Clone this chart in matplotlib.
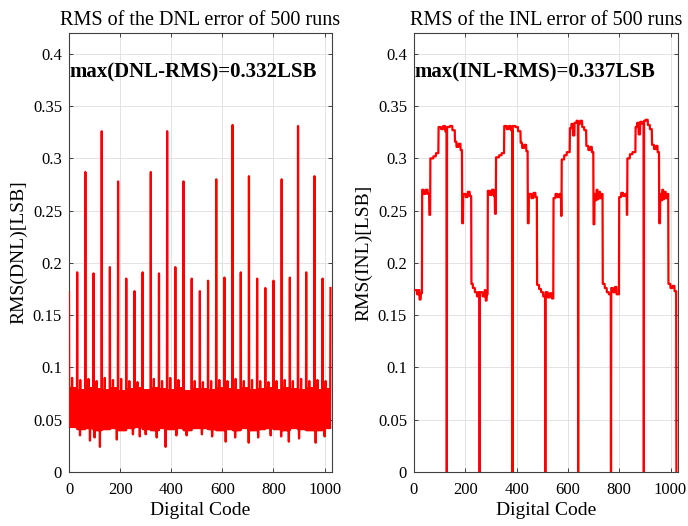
import numpy as np
import matplotlib
matplotlib.use("Agg")
import matplotlib.pyplot as plt

plt.rcParams["font.family"] = ["Liberation Serif", "DejaVu Serif"]

N_CODES = 1024

# ---- DNL: spikes every 32 codes (value read at each spike)
dnl_spike_codes = [0, 32, 64, 96, 128, 160, 192, 224, 256, 288, 320, 352, 384, 416,
                   448, 480, 512, 544, 576, 608, 640, 672, 704, 736, 768, 800, 832,
                   864, 896, 928, 960, 992, 1023]
dnl_spike_vals = [0.172, 0.191, 0.287, 0.190, 0.326, 0.196, 0.278, 0.185, 0.173,
                  0.191, 0.287, 0.190, 0.326, 0.196, 0.278, 0.185, 0.173, 0.183,
                  0.280, 0.186, 0.332, 0.191, 0.283, 0.185, 0.176, 0.183, 0.280,
                  0.186, 0.331, 0.191, 0.283, 0.185, 0.176]

# noise band of the DNL, top / bottom per 32-code block
dnl_band_hi = [0.080, 0.078, 0.080, 0.079, 0.078, 0.080, 0.077, 0.079,
               0.080, 0.078, 0.080, 0.079, 0.078, 0.080, 0.077, 0.079,
               0.079, 0.078, 0.080, 0.079, 0.078, 0.080, 0.078, 0.079,
               0.080, 0.078, 0.080, 0.079, 0.078, 0.080, 0.078, 0.079]
dnl_band_lo = [0.043, 0.041, 0.042, 0.040, 0.041, 0.042, 0.040, 0.042,
               0.043, 0.041, 0.040, 0.042, 0.041, 0.042, 0.040, 0.042,
               0.042, 0.041, 0.040, 0.041, 0.040, 0.042, 0.040, 0.041,
               0.042, 0.041, 0.040, 0.042, 0.041, 0.040, 0.040, 0.042]

# taller strokes right after each spike
dnl_bump_vals = [0.090, 0.088, 0.089, 0.087, 0.090, 0.088, 0.089, 0.087,
                 0.086, 0.088, 0.089, 0.087, 0.090, 0.088, 0.089, 0.087,
                 0.086, 0.087, 0.088, 0.087, 0.089, 0.087, 0.088, 0.087,
                 0.086, 0.087, 0.088, 0.087, 0.089, 0.087, 0.088, 0.087]

# deepest downward strokes
dnl_dip_codes = [43, 82, 100, 121, 160, 187, 250, 277, 300, 343, 378, 420, 460,
                 520, 560, 613, 650, 703, 740, 789, 830, 860, 900, 965, 1000]
dnl_dip_vals = [0.035, 0.030, 0.033, 0.024, 0.038, 0.031, 0.036, 0.034, 0.036,
                0.033, 0.024, 0.035, 0.035, 0.036, 0.034, 0.029, 0.033, 0.028,
                0.033, 0.035, 0.034, 0.029, 0.032, 0.028, 0.034]

# ---- INL: step levels (start code, level)
inl_starts = [0, 12, 18, 22, 27, 32, 38, 46, 54, 60, 64, 76, 86,
              96, 106, 114, 122, 129, 140, 150, 160, 166, 174, 182, 188,
              192, 202, 210, 218, 224, 230, 238, 246, 252,
              257, 268, 276, 280, 284, 288, 296, 304, 312, 316, 320, 332, 342,
              352, 362, 370, 378, 385, 396, 406, 416, 422, 430, 438, 444,
              448, 458, 466, 474, 480, 488, 496, 504,
              513, 522, 530, 538, 544, 552, 560, 568, 574, 576, 586, 596,
              608, 614, 620, 626, 634, 641, 648, 656, 664, 672, 680, 688, 694, 700,
              704, 708, 712, 716, 720, 726, 732, 736, 744, 752, 760,
              769, 776, 784, 790, 800, 808, 816, 824, 830, 832, 842, 852,
              864, 870, 876, 882, 890, 897, 904, 912, 920, 928, 936, 944, 950, 956,
              960, 964, 968, 972, 976, 982, 988, 992, 1000, 1008, 1016]
inl_levels = [0.174, 0.170, 0.174, 0.165, 0.171, 0.270, 0.266, 0.270, 0.266, 0.246,
              0.300, 0.302, 0.305,
              0.330, 0.328, 0.331, 0.326, 0.330, 0.331, 0.327, 0.316, 0.311, 0.314,
              0.308, 0.238,
              0.266, 0.263, 0.268, 0.264, 0.180, 0.176, 0.172, 0.168, 0.172,
              0.172, 0.168, 0.174, 0.164, 0.170, 0.269, 0.265, 0.270, 0.264, 0.247,
              0.301, 0.303, 0.305,
              0.331, 0.328, 0.331, 0.327, 0.331, 0.330, 0.326, 0.315, 0.310, 0.313,
              0.307, 0.238,
              0.266, 0.262, 0.267, 0.263, 0.179, 0.175, 0.172, 0.168,
              0.172, 0.167, 0.171, 0.166, 0.262, 0.266, 0.263, 0.266, 0.245,
              0.299, 0.303, 0.306,
              0.329, 0.333, 0.322, 0.334, 0.336, 0.333, 0.336, 0.330, 0.327,
              0.312, 0.308, 0.311, 0.306, 0.237,
              0.266, 0.260, 0.270, 0.261, 0.268, 0.262, 0.266, 0.180, 0.176, 0.172, 0.170,
              0.176, 0.172, 0.177, 0.170, 0.263, 0.267, 0.264, 0.266, 0.246,
              0.300, 0.304, 0.306,
              0.330, 0.334, 0.323, 0.335, 0.333, 0.336, 0.337, 0.332, 0.328,
              0.313, 0.309, 0.312, 0.306, 0.238,
              0.266, 0.260, 0.270, 0.261, 0.268, 0.262, 0.266, 0.180, 0.176, 0.178, 0.173]
inl_zero_codes = [128, 256, 384, 512, 640, 768, 896, 1023]

codes = np.arange(N_CODES)

# build DNL trace: band drawn as a zig-zag between its top and bottom
blk = codes // 32
dnl = np.where(codes % 2 == 0, np.take(dnl_band_hi, blk), np.take(dnl_band_lo, blk))
bump_codes = np.array(dnl_spike_codes[:-1]) + 12
dnl[bump_codes] = dnl_bump_vals
dnl[dnl_dip_codes] = dnl_dip_vals
dnl[dnl_spike_codes] = dnl_spike_vals

# build INL trace from the step levels
lengths = np.diff(inl_starts + [N_CODES])
inl = np.repeat(inl_levels, lengths)
inl[inl_zero_codes] = 0.0

fig = plt.figure(figsize=(6.88, 5.26), dpi=100)
ax1 = fig.add_axes([0.1003, 0.1027, 0.3823, 0.8346])
ax2 = fig.add_axes([0.6017, 0.1027, 0.3837, 0.8346])

panels = [
    (ax1, dnl, "RMS of the DNL error of 500 runs", "RMS(DNL)[LSB]",
     "max(DNL-RMS)=0.332LSB"),
    (ax2, inl, "RMS of the INL error of 500 runs", "RMS(INL)[LSB]",
     "max(INL-RMS)=0.337LSB"),
]
yt = [0, 0.05, 0.1, 0.15, 0.2, 0.25, 0.3, 0.35, 0.4]
for ax, y, title, ylab, note in panels:
    ax.plot(codes, y, color="#ff0000", lw=1.6, zorder=3)
    ax.set_xlim(0, 1029)
    ax.set_ylim(0, 0.42)
    ax.set_xticks([0, 200, 400, 600, 800, 1000])
    ax.set_yticks(yt)
    ax.set_yticklabels(["0", "0.05", "0.1", "0.15", "0.2", "0.25", "0.3", "0.35", "0.4"])
    ax.grid(True, color="#e3e3e3", lw=0.7, zorder=0)
    ax.set_axisbelow(True)
    ax.tick_params(direction="in", top=True, right=True, length=3,
                   labelsize=12, color="#404040", width=0.7)
    ax.tick_params(axis="x", pad=7)
    ax.tick_params(axis="y", pad=5)
    for sp in ax.spines.values():
        sp.set_color("#404040")
        sp.set_linewidth(0.8)
    ax.set_title(title, fontsize=14.5, pad=6)
    ax.set_xlabel("Digital Code", fontsize=14, labelpad=3)
    ax.set_ylabel(ylab, fontsize=14, labelpad=4)
    ax.text(2, 0.382, note, fontsize=15, fontweight="bold", va="center",
            ha="left", zorder=5)

fig.savefig("out.png", dpi=100)
